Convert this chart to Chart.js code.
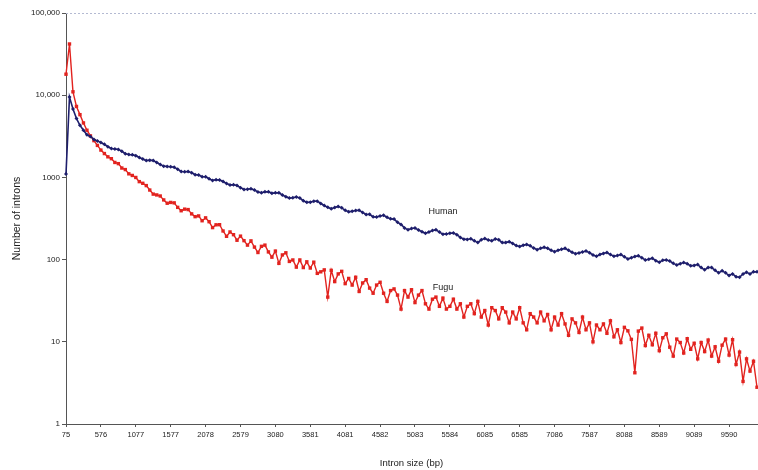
<!DOCTYPE html>
<html>
<head>
<meta charset="utf-8">
<script src="https://cdn.jsdelivr.net/npm/chart.js@4/dist/chart.umd.min.js"></script>
<style>
  html, body { margin: 0; padding: 0; background: #ffffff; }
  #wrap { width: 758px; height: 470px; position: relative; }
</style>
</head>
<body>
<div id="wrap"><canvas id="c" width="758" height="470"></canvas></div>
<script>
// Intron length bins: 199 bins starting at 75 bp, 50.08 bp wide
const BIN_START = 75;
const BIN_WIDTH = 50.08;
const BIN_COUNT = 199;
const binLabels = Array.from({ length: BIN_COUNT }, (_, i) => String(Math.round(BIN_START + BIN_WIDTH * i)));

// Every tenth bin carries a label on the x axis
const X_LABEL_EVERY = 10;

// Log axis decades and how they are printed
const yDecades = [1, 10, 100, 1000, 10000, 100000];
const yDecadeLabels = ['1', '10', '100', '1000', '10,000', '100,000'];

// Number of introns per bin, human
const human = [
  1100, 9500, 6800, 5200, 4300, 3750, 3300, 3150, 2900, 2780,
  2650, 2530, 2360, 2250, 2220, 2190, 2080, 1940, 1900, 1880,
  1840, 1750, 1670, 1600, 1620, 1600, 1520, 1440, 1370, 1360,
  1350, 1330, 1260, 1180, 1170, 1180, 1140, 1080, 1070, 1020,
  1020, 965, 920, 935, 930, 890, 845, 810, 815, 795,
  750, 712, 717, 728, 704, 666, 650, 667, 670, 640,
  649, 649, 612, 582, 560, 566, 578, 561, 520, 497,
  500, 512, 514, 482, 456, 432, 415, 430, 443, 426,
  398, 381, 388, 396, 399, 375, 353, 356, 331, 330,
  340, 346, 328, 313, 311, 284, 268, 243, 230, 239,
  242, 229, 218, 209, 216, 226, 230, 216, 204, 205,
  209, 210, 201, 186, 177, 176, 179, 169, 161, 174,
  180, 173, 169, 178, 174, 161, 161, 165, 157, 148,
  144, 149, 153, 147, 138, 132, 137, 141, 137, 130,
  125, 130, 134, 137, 130, 123, 118, 120, 124, 127,
  121, 114, 110, 115, 119, 122, 115, 110, 112, 115,
  108, 102, 105, 109, 111, 105, 99, 101, 104, 97,
  93, 98, 99, 96, 90, 86, 89, 92, 89, 84,
  85, 87, 80, 75, 80, 80, 74, 69, 73, 69,
  64, 67, 62, 61, 67, 70, 67, 71, 71
];

// Number of introns per bin, Fugu
const fugu = [
  18000, 42000, 11000, 7300, 5800, 4600, 3750, 3200, 2800, 2450,
  2150, 1950, 1780, 1690, 1520, 1470, 1300, 1245, 1105, 1056,
  998, 888, 848, 795, 702, 626, 612, 594, 532, 485,
  496, 490, 432, 393, 411, 406, 360, 333, 340, 297,
  322, 289, 245, 265, 266, 223, 192, 217, 201, 172,
  193, 170, 150, 169, 142, 122, 145, 150, 124, 107,
  127, 90, 114, 121, 95, 99, 81, 99, 80, 94,
  79, 93, 68, 71, 75, 35, 74, 54, 67, 72,
  51, 59, 49, 61, 41, 52, 57, 45, 39, 49,
  53, 39, 31, 42, 44, 37, 25, 42, 35, 43,
  30, 37, 42, 29, 25, 33, 35, 27, 34, 25,
  27, 33, 25, 29, 20, 27, 29, 22, 31, 20,
  24, 16, 26, 24, 19, 26, 23, 17, 23, 19,
  26, 17, 14, 22, 20, 17, 23, 18, 21.5, 14,
  20, 16, 22, 16.5, 12, 19, 17, 13, 20, 14,
  17, 10, 16, 14, 16.5, 12.7, 18, 11.5, 14, 9.8,
  15, 13.6, 10.7, 4.2, 13.5, 14.7, 9, 12, 9.2, 12.7,
  7.8, 11.2, 12.5, 8.6, 6.7, 10.8, 9.8, 7.3, 10.9, 8.1,
  9.6, 6.2, 9.8, 7.6, 10.5, 6.7, 8.7, 5.8, 9.1, 10.8,
  6.9, 10.6, 5.3, 7.5, 3.3, 6.2, 4.4, 5.8, 2.8
];

// In-plot series captions: [text, bin index, value]
const captions = [
  ['Human', 108, 380],
  ['Fugu', 108, 46]
];

const NAVY = '#1e1e6c';
const RED = '#e2231f';

const decorations = {
  id: 'decorations',
  beforeDatasetsDraw(chart) {
    const { ctx, chartArea } = chart;
    ctx.save();
    ctx.strokeStyle = '#b4bad2';
    ctx.lineWidth = 1;
    ctx.setLineDash([2, 2]);
    ctx.beginPath();
    ctx.moveTo(chartArea.left, chartArea.top + 0.5);
    ctx.lineTo(chartArea.right, chartArea.top + 0.5);
    ctx.stroke();
    ctx.restore();
  },
  afterDatasetsDraw(chart) {
    const { ctx } = chart;
    const xs = chart.scales.x, ys = chart.scales.y;
    ctx.save();
    ctx.fillStyle = '#1a1a1a';
    ctx.font = '9px "Liberation Sans", Arial, sans-serif';
    ctx.textAlign = 'center';
    ctx.textBaseline = 'middle';
    captions.forEach(([text, idx, val]) => {
      ctx.fillText(text, xs.getPixelForValue(idx), ys.getPixelForValue(val));
    });
    ctx.restore();
  }
};

new Chart(document.getElementById('c'), {
  type: 'line',
  data: {
    labels: binLabels,
    datasets: [
      {
        label: 'Human',
        data: human,
        borderColor: NAVY,
        backgroundColor: NAVY,
        borderWidth: 1.6,
        pointStyle: 'rectRot',
        pointRadius: 2,
        pointBorderWidth: 0,
        tension: 0
      },
      {
        label: 'Fugu',
        data: fugu,
        borderColor: RED,
        backgroundColor: RED,
        borderWidth: 1.4,
        pointStyle: 'rect',
        pointRadius: 2.4,
        pointBorderWidth: 0,
        tension: 0
      }
    ]
  },
  options: {
    responsive: false,
    animation: false,
    devicePixelRatio: 1,
    layout: { autoPadding: false, padding: { top: 13, right: 1, left: 0, bottom: 0 } },
    plugins: { legend: { display: false }, tooltip: { enabled: false } },
    scales: {
      x: {
        type: 'category',
        afterFit(scale) { scale.height = 46; },
        afterBuildTicks(scale) {
          scale.ticks = scale.ticks.filter((t) => t.value % X_LABEL_EVERY === 0);
        },
        grid: { display: true, drawOnChartArea: false, drawTicks: true, tickLength: 3, tickColor: '#555' },
        border: { display: true, color: '#555', width: 1 },
        ticks: {
          autoSkip: false,
          maxRotation: 0,
          minRotation: 0,
          padding: 3,
          color: '#222',
          font: { family: '"Liberation Sans", Arial, sans-serif', size: 7.5 },
          callback(value) { return binLabels[value]; }
        },
        title: {
          display: true,
          text: 'Intron size (bp)',
          color: '#1a1a1a',
          font: { family: '"Liberation Sans", Arial, sans-serif', size: 9.5 },
          padding: { top: 0, bottom: 1 }
        }
      },
      y: {
        type: 'logarithmic',
        min: 1,
        max: 100000,
        afterFit(scale) { scale.width = 66; },
        afterBuildTicks(scale) {
          scale.ticks = yDecades.map((v) => ({ value: v, major: true }));
        },
        grid: { display: true, drawOnChartArea: false, drawTicks: true, tickLength: 4, tickColor: '#555' },
        border: { display: true, color: '#555', width: 1 },
        ticks: {
          autoSkip: false,
          padding: 2,
          color: '#222',
          font: { family: '"Liberation Sans", Arial, sans-serif', size: 8 },
          callback(value) {
            const k = yDecades.indexOf(value);
            return k >= 0 ? yDecadeLabels[k] : '';
          }
        },
        title: {
          display: true,
          text: 'Number of introns',
          color: '#1a1a1a',
          font: { family: '"Liberation Sans", Arial, sans-serif', size: 10.5 },
          padding: { top: 11, bottom: 0 }
        }
      }
    }
  },
  plugins: [decorations]
});
</script>
</body>
</html>
